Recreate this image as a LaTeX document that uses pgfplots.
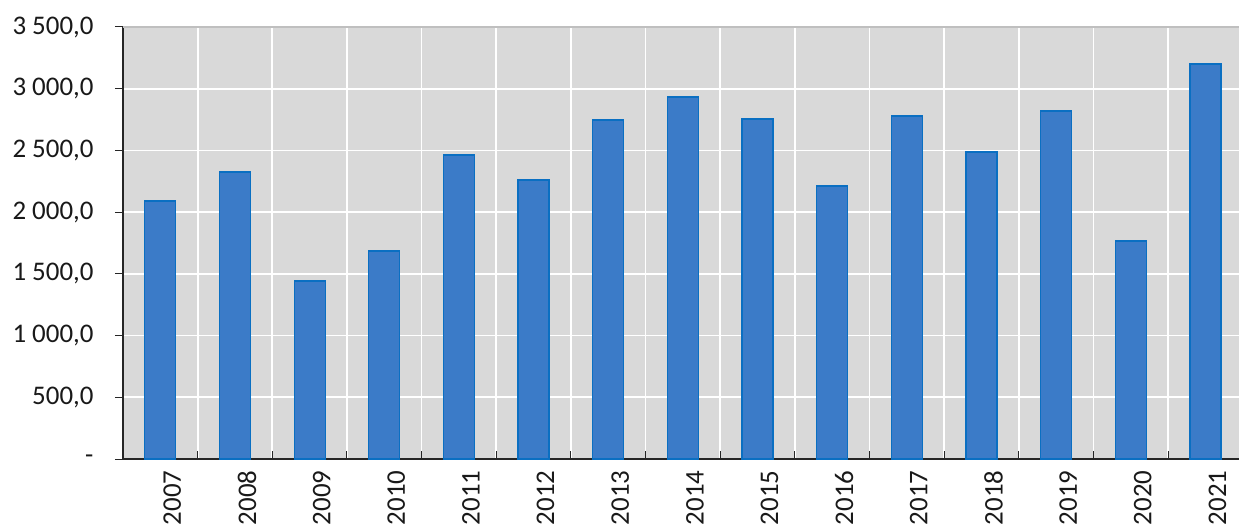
\documentclass[border=0pt]{standalone}
\usepackage{pgfplots}
\pgfplotsset{compat=1.18}
\usepackage{fontspec}
\setmainfont{Carlito}
\definecolor{bgc}{HTML}{D9D9D9}
\definecolor{barc}{HTML}{3B7BC8}
\definecolor{barb}{HTML}{0A6FC2}
\begin{document}
\begin{tikzpicture}
\begin{axis}[
  scale only axis,
  width=1116bp, height=432bp,
  xmin=-0.5, xmax=14.45,
  ymin=0, ymax=3500,
  axis background/.style={fill=bgc},
  axis x line*=bottom, axis y line*=left,
  axis line style={black!85, line width=1.2bp},
  xtick={0,...,14},
  xticklabels={2007,2008,2009,2010,2011,2012,2013,2014,2015,2016,2017,2018,2019,2020,2021},
  major x tick style={draw=none},
  minor xtick={0.5,1.5,...,13.5},
  minor x grid style={white, line width=1.8bp},
  xminorgrids=true,
  minor tick length=8bp,
  minor x tick style={black!85, line width=1bp, yshift=8bp},
  tick align=outside,
  major tick length=8bp,
  ytick={0,500,...,3500},
  yticklabels={{-},{500,0},{1 000,0},{1 500,0},{2 000,0},{2 500,0},{3 000,0},{3 500,0}},
  ymajorgrids=true,
  major y grid style={white, line width=1.8bp},
  major y tick style={black!85, line width=1bp},
  ticklabel style={font=\fontsize{27}{31}\selectfont, text=black!90},
  yticklabel style={xshift=-18bp},
  xticklabel style={rotate=90, anchor=east, yshift=-12bp},
  /pgf/number format/assume math mode=true,
  ybar, bar width=31bp,
  clip=false,
]
\addplot[fill=barc, draw=barb, line width=1.2bp] coordinates {
(0,2090) (1,2325) (2,1442) (3,1685) (4,2463) (5,2260) (6,2746) (7,2933)
(8,2755) (9,2212) (10,2779) (11,2487) (12,2819) (13,1766) (14,3200)};
\draw[black!25, line width=1.5bp] (rel axis cs:0,1) -- (rel axis cs:1,1);
\coordinate (o) at (rel axis cs:0,0);
\end{axis}
\pgfresetboundingbox
\path (o) ++(-123bp,-70bp) rectangle ++(1239bp,529bp);
\end{tikzpicture}
\end{document}
